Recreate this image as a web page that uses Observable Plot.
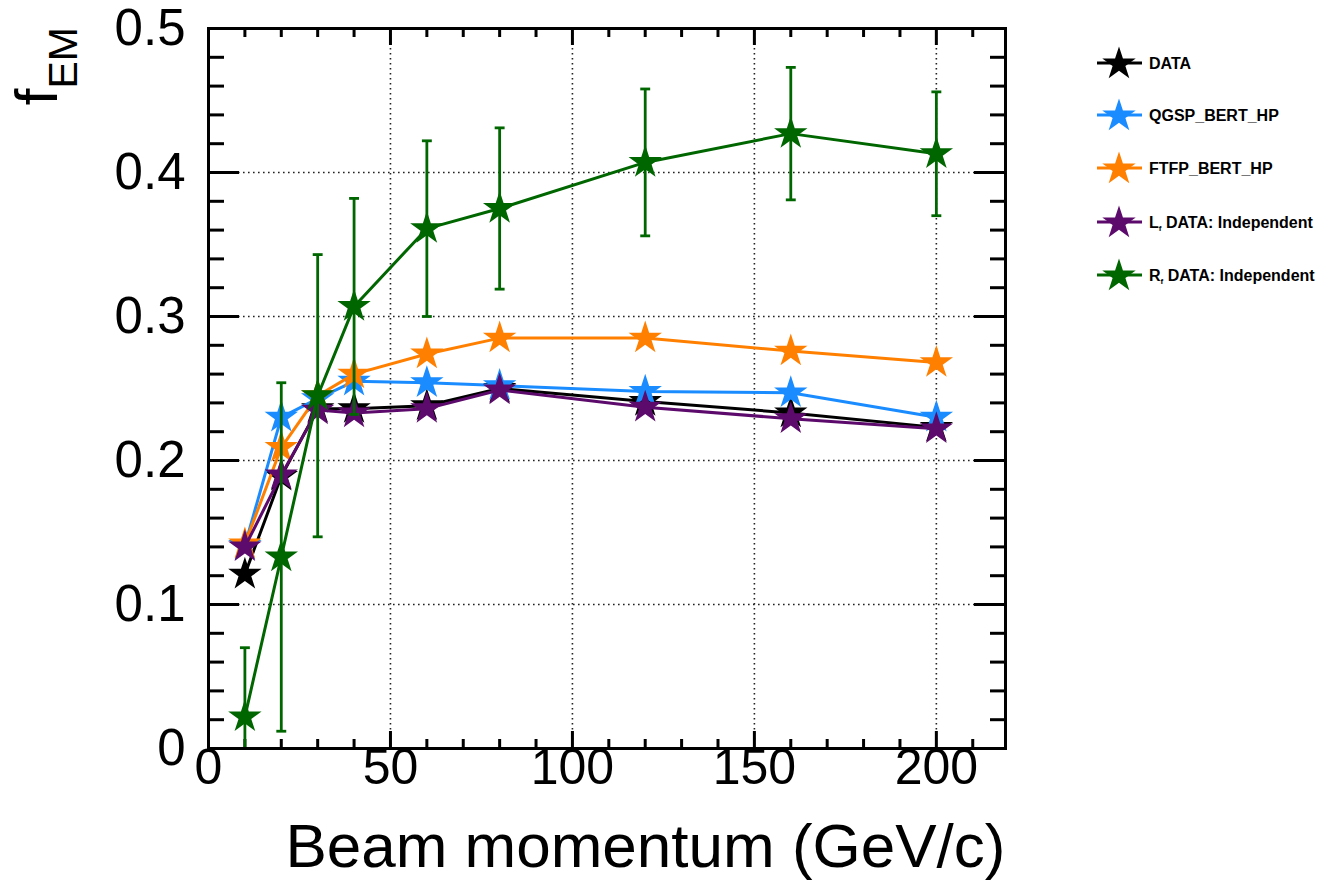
<!DOCTYPE html>
<html><head><meta charset="utf-8">
<script src="https://cdn.jsdelivr.net/npm/d3@7"></script>
<script src="https://cdn.jsdelivr.net/npm/@observablehq/plot@0.6"></script>
<style>
html,body{margin:0;padding:0;background:#fff;}
#chart{position:relative;width:1331px;height:889px;}
</style></head><body><div id="chart"></div>
<script>
// ---- data ----
const momenta = [10, 20, 30, 40, 60, 80, 120, 160, 200];
const dataFEM = [0.121, 0.189, 0.236, 0.236, 0.238, 0.250, 0.241, 0.233, 0.223];
const qgspFEM = [0.141, 0.230, 0.243, 0.255, 0.254, 0.252, 0.248, 0.247, 0.230];
const ftfpFEM = [0.142, 0.209, 0.245, 0.260, 0.274, 0.285, 0.285, 0.276, 0.268];
const lfFEM   = [0.140, 0.190, 0.235, 0.233, 0.236, 0.249, 0.237, 0.229, 0.222];
const rfFEM   = [0.022, 0.133, 0.245, 0.307, 0.361, 0.375, 0.407, 0.427, 0.413];
const rfErr   = [0.048, 0.121, 0.098, 0.075, 0.061, 0.056, 0.051, 0.046, 0.043];

const seriesNames  = ["DATA", "QGSP_BERT_HP", "FTFP_BERT_HP", "L_f DATA: Independent", "R_f DATA: Independent"];
const seriesColors = ["#000000", "#1a8cff", "#ff8000", "#5c0a6b", "#006600"];
const seriesValues = [dataFEM, qgspFEM, ftfpFEM, lfFEM, rfFEM];

const xMajorTicks = [0, 50, 100, 150, 200];
const xMinorTicks = [10, 20, 30, 40, 60, 70, 80, 90, 110, 120, 130, 140, 160, 170, 180, 190, 210];
const yMajorTicks = [0, 0.1, 0.2, 0.3, 0.4, 0.5];
const yMinorTicks = [0.02, 0.04, 0.06, 0.08, 0.12, 0.14, 0.16, 0.18, 0.22, 0.24, 0.26, 0.28,
                     0.32, 0.34, 0.36, 0.38, 0.42, 0.44, 0.46, 0.48];
const xGridTicks = [50, 100, 150, 200];
const yGridTicks = [0.1, 0.2, 0.3, 0.4];
const xTitle = "Beam momentum (GeV/c)";

// ---- layout ----
const width = 1331, height = 889;
const mL = 208, mR = 326, mT = 28, mB = 141;
const W = width - mL - mR, H = height - mT - mB;
const FONT = "'Liberation Sans', Arial, Helvetica, sans-serif";

const rows = seriesValues.map(vals => momenta.map((x, i) => ({x, y: vals[i]})));
const rfRows = momenta.map((x, i) => ({x, y: rfFEM[i], lo: rfFEM[i] - rfErr[i], hi: rfFEM[i] + rfErr[i]}));

const capSymbol = {draw(ctx, size) { const w = Math.sqrt(size); ctx.moveTo(-w / 2, 0); ctx.lineTo(w / 2, 0); }};
const STAR_R = 10.5;

const seriesMarks = [];
rows.forEach((r, k) => {
  const c = seriesColors[k];
  seriesMarks.push(Plot.line(r, {x: "x", y: "y", stroke: c, strokeWidth: 3}));
  if (k === 4) {
    seriesMarks.push(Plot.ruleX(rfRows, {x: "x", y1: "lo", y2: "hi", stroke: c, strokeWidth: 2.8, clip: true}));
    seriesMarks.push(Plot.dot(rfRows, {x: "x", y: "lo", symbol: capSymbol, r: 5.6, stroke: c, strokeWidth: 2.8, clip: true}));
    seriesMarks.push(Plot.dot(rfRows, {x: "x", y: "hi", symbol: capSymbol, r: 5.6, stroke: c, strokeWidth: 2.8, clip: true}));
  }
  seriesMarks.push(Plot.dot(r, {x: "x", y: "y", symbol: "star", r: STAR_R, fill: c, stroke: "none"}));
});

const plot = Plot.plot({
  width, height,
  marginLeft: mL, marginRight: mR, marginTop: mT, marginBottom: mB,
  x: {domain: [0, 219], axis: null},
  y: {domain: [0, 0.5], axis: null},
  style: {fontFamily: FONT, background: "#fff", color: "#000", overflow: "visible"},
  marks: [
    Plot.gridX(xGridTicks, {stroke: "#222", strokeOpacity: 1, strokeWidth: 1.6, strokeDasharray: "1.6,3.4"}),
    Plot.gridY(yGridTicks, {stroke: "#222", strokeOpacity: 1, strokeWidth: 1.6, strokeDasharray: "1.6,3.4"}),
    // inward ticks: bottom & top
    Plot.ruleX(xMajorTicks, {x: d => d, insetTop: H - 17, stroke: "#000", strokeWidth: 3}),
    Plot.ruleX(xMinorTicks, {x: d => d, insetTop: H - 9, stroke: "#000", strokeWidth: 3}),
    Plot.ruleX(xMajorTicks, {x: d => d, insetBottom: H - 17, stroke: "#000", strokeWidth: 3}),
    Plot.ruleX(xMinorTicks, {x: d => d, insetBottom: H - 9, stroke: "#000", strokeWidth: 3}),
    // inward ticks: left & right
    Plot.ruleY(yMajorTicks, {y: d => d, insetRight: W - 31, stroke: "#000", strokeWidth: 3}),
    Plot.ruleY(yMinorTicks, {y: d => d, insetRight: W - 16, stroke: "#000", strokeWidth: 3}),
    Plot.ruleY(yMajorTicks, {y: d => d, insetLeft: W - 31, stroke: "#000", strokeWidth: 3}),
    Plot.ruleY(yMinorTicks, {y: d => d, insetLeft: W - 15, stroke: "#000", strokeWidth: 3}),
    ...seriesMarks,
    Plot.frame({stroke: "#000", strokeWidth: 3}),
    // tick labels
    Plot.text(xMajorTicks, {x: d => d, frameAnchor: "bottom", dy: 35, text: d => String(d), fontSize: 50, fill: "#000"}),
    Plot.text(yMajorTicks, {y: d => d, frameAnchor: "left", dx: -23, textAnchor: "end", text: d => d === 0 ? "0" : d.toFixed(1), fontSize: 51, fill: "#000"}),
    // x title
    Plot.text([xTitle], {frameAnchor: "bottom-right", lineAnchor: "bottom", textAnchor: "end", dy: 118, text: d => d, fontSize: 62, fill: "#000"})
  ]
});

const svg = d3.select(plot);

// y title f_EM (rotated)
const yt = svg.append("text")
  .attr("transform", "translate(57,27) rotate(-90)")
  .attr("text-anchor", "end")
  .attr("font-family", FONT)
  .attr("fill", "#000");
yt.append("tspan").attr("font-size", 60).text("f");
yt.append("tspan").attr("font-size", 41).attr("dy", 20).text("EM");

// legend
const legendRowsY = [63, 115, 168, 222, 275];
const lg = svg.append("g").attr("font-family", FONT).attr("text-anchor", "start");
const starPath = d3.symbol(d3.symbolStar, Math.PI * STAR_R * STAR_R)();
seriesNames.forEach((name, k) => {
  const g = lg.append("g").attr("transform", `translate(0,${legendRowsY[k]})`);
  g.append("line").attr("x1", 1097).attr("x2", 1142).attr("y1", 0).attr("y2", 0)
    .attr("stroke", seriesColors[k]).attr("stroke-width", 3);
  g.append("path").attr("d", starPath).attr("transform", "translate(1119,1)").attr("fill", seriesColors[k]);
  const t = g.append("text").attr("x", 1149).attr("y", 6).attr("text-anchor", "start")
    .attr("font-size", 16).attr("font-weight", "bold").attr("fill", "#000");
  if (name.includes("_f ")) {
    const [head, rest] = name.split("_f");
    t.append("tspan").text(head);
    t.append("tspan").attr("font-size", 8).attr("dy", 3).text("f");
    t.append("tspan").attr("dy", -3).text(rest);
  } else {
    t.text(name);
  }
});

document.getElementById("chart").appendChild(plot);
</script>
</body></html>
